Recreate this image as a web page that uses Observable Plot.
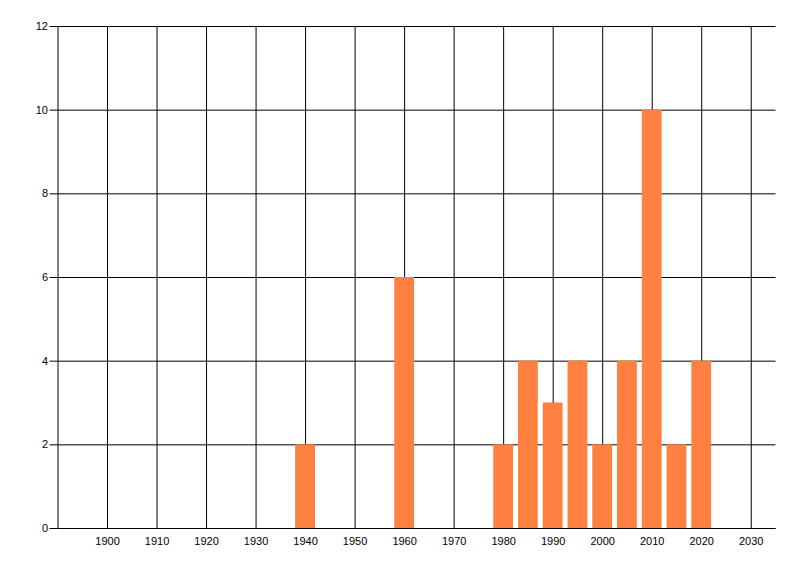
<!DOCTYPE html>
<html>
<head>
<meta charset="utf-8">
<script src="https://cdn.jsdelivr.net/npm/d3@7"></script>
<script src="https://cdn.jsdelivr.net/npm/@observablehq/plot@0.6"></script>
<style>
  body { margin: 0; background: #fff; }
  #chart svg { display: block; }
</style>
</head>
<body>
<div id="chart"></div>
<script>
// años y cantidades
const years = [1940, 1960, 1980, 1985, 1990, 1995, 2000, 2005, 2010, 2015, 2020]
const counts = [2, 6, 2, 4, 3, 4, 2, 4, 10, 2, 4]
const xTicks = d3.range(1900, 2031, 10)
const yTicks = [0, 2, 4, 6, 8, 10, 12]

const data = years.map((year, i) => ({ year, count: counts[i] }))

let chart = Plot.plot({
  width: 800,
  height: 576,
  marginLeft: 57.5,
  marginRight: 24.5,
  marginTop: 26,
  marginBottom: 48,
  style: { fontFamily: 'Liberation Sans, Arial, sans-serif', fontSize: '11px', background: '#fff' },
  x: { domain: [1890, 2035] },
  y: { domain: [0, 12] },
  marks: [
    Plot.gridX(xTicks, { stroke: '#000', strokeOpacity: 1 }),
    Plot.gridY(yTicks, { stroke: '#000', strokeOpacity: 1 }),
    Plot.rectY(data, {
      x1: d => d.year - 2,
      x2: d => d.year + 2,
      y: 'count',
      fill: '#FF8040',
    }),
    Plot.axisX(xTicks, {
      tickSize: 0,
      tickPadding: 9,
      tickFormat: d => String(d),
      label: null,
      fill: '#000',
    }),
    Plot.axisY(yTicks, {
      tickSize: 8,
      tickPadding: 2,
      label: null,
      stroke: '#000',
      strokeOpacity: 1,
      fill: '#000',
    }),
    Plot.ruleX([1890], { stroke: '#000' }),
    Plot.ruleY([0], { stroke: '#000' }),
  ],
})

d3.select('#chart').append(() => chart)
</script>
</body>
</html>
